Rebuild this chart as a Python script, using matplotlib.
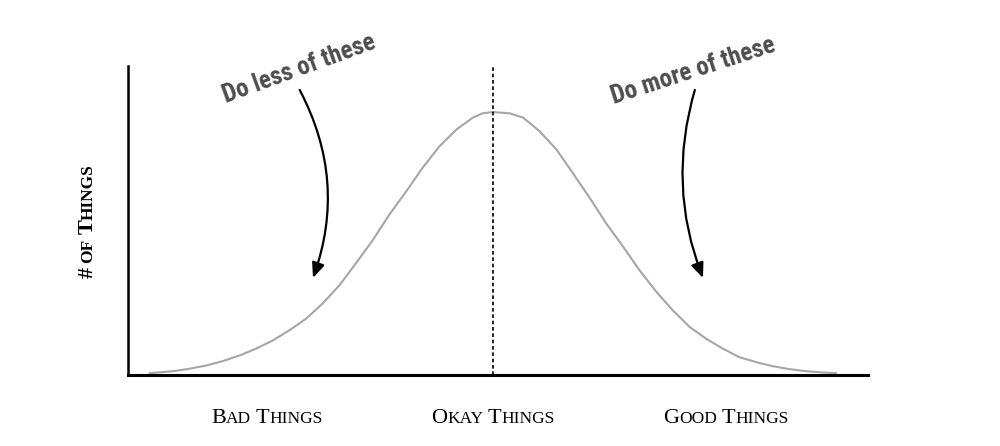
import matplotlib
matplotlib.use("Agg")
from matplotlib import pyplot as plt
from matplotlib import font_manager
from matplotlib import transforms as mtransforms
import numpy as np

# values (0 = okay things, peak height = 100)
quality = [-4.64, -4.32, -4.10, -3.87, -3.65, -3.42, -3.20, -2.97, -2.75, -2.52,
           -2.30, -2.07, -1.85, -1.62, -1.40, -1.17, -0.95, -0.72, -0.49, -0.27,
           -0.14, 0.00, 0.23, 0.41, 0.63, 0.86, 1.08, 1.31, 1.53, 1.76,
           1.98, 2.21, 2.43, 2.66, 2.88, 3.11, 3.33, 3.56, 3.78, 4.01,
           4.23, 4.46, 4.64]
things = [0.69, 1.45, 2.37, 3.63, 5.27, 7.45, 10.01, 13.18, 17.00, 21.47,
          27.20, 34.19, 42.48, 51.38, 60.92, 69.82, 78.76, 87.01, 93.39, 97.86,
          99.50, 100.0, 99.50, 97.86, 92.74, 85.75, 76.85, 67.30, 57.75, 48.82,
          39.92, 31.63, 24.64, 18.26, 13.83, 10.01, 6.80, 4.89, 3.36, 2.22,
          1.45, 0.95, 0.69]

category_labels = ["Bad Things", "Okay Things", "Good Things"]
category_pos = [-3.05, 0.0, 3.15]
ylabel = "# of Things"

notes = ["Do less of these", "Do more of these"]


def pick_font(names, default):
    for n in names:
        try:
            font_manager.findfont(font_manager.FontProperties(family=n),
                                  fallback_to_default=False)
            return n
        except ValueError:
            pass
    return default


def small_caps(ax, x, y, label, size, rotation=0, ratio=0.78,
               family="Liberation Serif", weight="normal"):
    """Fake small caps: capitals at full size, lower case as smaller capitals."""
    fig = ax.figure
    renderer = fig.canvas.get_renderer()

    runs = []
    for ch in label:
        if ch == " ":
            kind = "gap"
        elif ch.islower():
            kind = "small"
        else:
            kind = "big"
        if runs and runs[-1][0] == kind:
            runs[-1][1] += ch
        else:
            runs.append([kind, ch])

    def width(s, sz):
        t = ax.text(0, 0, "|" + s + "|", fontsize=sz, family=family, weight=weight)
        w1 = t.get_window_extent(renderer).width
        t.set_text("||")
        w2 = t.get_window_extent(renderer).width
        t.remove()
        return w1 - w2

    sized = []
    for kind, s in runs:
        sz = size if kind == "big" else size * ratio
        sized.append((kind, s.upper(), sz, width(s.upper(), sz)))

    total = sum(r[3] for r in sized)
    p0 = ax.transData.transform((x, y))
    d = np.array([np.cos(np.radians(rotation)), np.sin(np.radians(rotation))])
    pos = p0 - d * total / 2
    for kind, s, sz, w in sized:
        if kind != "gap":
            ax.text(pos[0], pos[1], s, fontsize=sz, family=family, weight=weight,
                    transform=mtransforms.IdentityTransform(),
                    ha="left", va="baseline", rotation=rotation,
                    rotation_mode="anchor", color="black", clip_on=False)
        pos = pos + d * w


fig = plt.figure(figsize=(10, 4.46), dpi=100)
ax = fig.add_axes([0.128, 71 / 446, 0.74, 309 / 446])

ax.plot(quality, things, color="#a6a6a6", lw=1.5, solid_capstyle="round",
        solid_joinstyle="round", zorder=2)
ax.axvline(0, color="black", lw=1.2, linestyle=(0, (2.2, 1.6)), zorder=3)

ax.set_xlim(-4.93, 5.07)
ax.set_ylim(0, 117.5)
ax.set_xticks([])
ax.set_yticks([])
for side in ["top", "right"]:
    ax.spines[side].set_visible(False)
ax.spines["left"].set_linewidth(1.8)
ax.spines["bottom"].set_linewidth(2.2)

for pos, lab in zip(category_pos, category_labels):
    small_caps(ax, pos, -18.2, lab, 16)

# y label, baseline on the right side of the rotated letters
small_caps(ax, -5.41, 58.5, ylabel, 16, rotation=90, weight="bold")

hand = pick_font(["Liberation Sans Narrow", "Roboto Condensed", "Open Sans Condensed"], None)
if hand is None:
    hand, hand_size = "Roboto", 14.5
else:
    hand_size = 18

ax.text(-2.61, 116.5, notes[0], fontsize=hand_size, family=hand, weight="bold",
        color="#4e4e4e", rotation=20, ha="center", va="center",
        rotation_mode="anchor", clip_on=False)
ax.text(2.71, 115.5, notes[1], fontsize=hand_size, family=hand, weight="bold",
        color="#4e4e4e", rotation=18, ha="center", va="center",
        rotation_mode="anchor", clip_on=False)

arrow = "-|>,head_length=0.9,head_width=0.38"
ax.annotate("", xy=(-2.43, 36.9), xytext=(-2.61, 108.4),
            arrowprops=dict(arrowstyle=arrow, connectionstyle="arc3,rad=-0.22",
                            color="black", lw=1.6, shrinkA=0, shrinkB=0),
            annotation_clip=False)
ax.annotate("", xy=(2.84, 36.9), xytext=(2.73, 108.4),
            arrowprops=dict(arrowstyle=arrow, connectionstyle="arc3,rad=0.17",
                            color="black", lw=1.6, shrinkA=0, shrinkB=0),
            annotation_clip=False)

fig.savefig("out.png", dpi=100)
